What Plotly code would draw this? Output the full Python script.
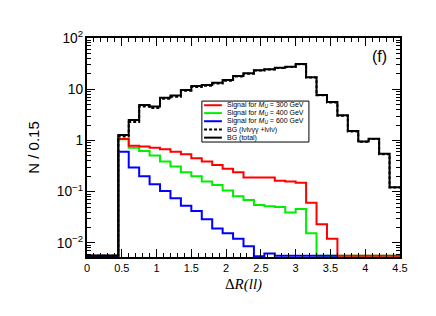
import math
import plotly.graph_objects as go

BIN_WIDTH = 0.15

# Bin contents (bins of width 0.15 starting at 0)
bg_total = [0, 0, 0, 1.28, 2.5, 4.9, 4.6, 6.8, 7.5, 9.7, 11.6, 12.1, 13.4, 15.1, 18.1,
            20.4, 23.5, 24.5, 26.3, 27.5, 31.1, 17.1, 7.7, 5.6, 3.1, 1.53, 0.95, 1.08,
            0.55, 0.122]
bg_lvlv = [0, 0, 0, 1.2, 2.3, 4.6, 4.3, 6.5, 7.1, 9.3, 11.1, 11.7, 13.0, 14.7, 17.7,
           20.0, 23.1, 24.2, 26.0, 27.2, 30.8, 16.9, 7.6, 5.5, 3.05, 1.5, 0.94, 1.07,
           0.54, 0.12]
sig_300 = [0, 0, 0, 1.07, 0.79, 0.76, 0.72, 0.67, 0.60, 0.54, 0.45, 0.39, 0.33, 0.28,
           0.24, 0.19, 0.19, 0.19, 0.164, 0.157, 0.15, 0.061, 0.023, 0.012, 0, 0, 0, 0,
           0, 0]
sig_400 = [0, 0, 0, 1.05, 0.72, 0.62, 0.51, 0.39, 0.31, 0.24, 0.20, 0.157, 0.135,
           0.105, 0.081, 0.069, 0.055, 0.052, 0.050, 0.039, 0.046, 0.0155, 0.0056, 0,
           0, 0, 0, 0, 0, 0]
sig_600 = [0, 0, 0, 0.6, 0.295, 0.2, 0.14, 0.103, 0.074, 0.053, 0.042, 0.029, 0.019,
           0.0155, 0.012, 0.0086, 0.0055, 0.0062, 0, 0, 0, 0, 0, 0]

legend_labels = [
    "Signal for <i>M</i><sub><i>U</i></sub> = 300 GeV",
    "Signal for <i>M</i><sub><i>U</i></sub> = 400 GeV",
    "Signal for <i>M</i><sub><i>U</i></sub> = 600 GeV",
    "BG (lνlνγγ +lνlν)",
    "BG (total)",
]
legend_colors = ["#ff0000", "#00ee00", "#0000ff", "black", "black"]
DASHED = "3px,2px"
legend_dash = ["solid", "solid", "solid", DASHED, "solid"]

Y_MIN = 0.0053
Y_MAX = 100.0
FLOOR = Y_MIN * 1.06


def step(values):
    xs = [i * BIN_WIDTH for i in range(len(values) + 1)]
    ys = [v if v > 0 else FLOOR for v in values]
    ys = ys + [ys[-1]]
    return xs, ys


fig = go.Figure()


def add(values, name, color, dash="solid"):
    xs, ys = step(values)
    fig.add_trace(go.Scatter(x=xs, y=ys, mode="lines", line_shape="hv",
                             name=name, showlegend=False,
                             line=dict(color=color, width=2, dash=dash)))


add(sig_400, legend_labels[1], legend_colors[1])
add(sig_300, legend_labels[0], legend_colors[0])
add(sig_600, legend_labels[2], legend_colors[2])
add(bg_lvlv, legend_labels[3], "black", dash=DASHED)
add(bg_total, legend_labels[4], "black")

font_family = "Liberation Sans, Arial, sans-serif"

# Manual compact legend (ROOT-style box)
shapes = [dict(type="rect", xref="paper", yref="paper", x0=0.367, x1=0.709,
               y0=0.525, y1=0.712, line=dict(color="black", width=1),
               fillcolor="white", layer="above")]
annotations = []
row_y = [0.693, 0.657, 0.620, 0.582, 0.545]
for yy, lab, col, dsh in zip(row_y, legend_labels, legend_colors, legend_dash):
    shapes.append(dict(type="line", xref="paper", yref="paper", x0=0.374, x1=0.431,
                       y0=yy, y1=yy, line=dict(color=col, width=2, dash=dsh),
                       layer="above"))
    annotations.append(dict(text=lab, x=0.442, y=yy, xref="paper", yref="paper",
                            xanchor="left", yanchor="middle", showarrow=False,
                            font=dict(size=7, family=font_family)))
annotations.append(dict(text="(f)", x=0.935, y=0.915, xref="paper", yref="paper",
                        xanchor="center", yanchor="middle",
                        showarrow=False, font=dict(size=16, family=font_family)))

# page body has an 8px default margin, so the figure is drawn 8px smaller
fig.update_layout(
    width=428, height=308,
    margin=dict(l=79, r=36, t=30, b=59, autoexpand=False),
    paper_bgcolor="white", plot_bgcolor="white",
    font=dict(family=font_family, color="black", size=11),
    showlegend=False,
    shapes=shapes,
    annotations=annotations,
)

fig.update_xaxes(
    range=[0, 4.5], dtick=0.5, tick0=0, automargin=False,
    showline=True, linecolor="black", linewidth=1.5, mirror="ticks",
    ticks="inside", ticklen=8, tickcolor="black", tickwidth=1,
    minor=dict(ticks="inside", dtick=0.1, ticklen=4, tickcolor="black", showgrid=False),
    showgrid=False, zeroline=False,
    title=dict(text="Δ<i>R(ll)</i>", font=dict(size=15, family="Liberation Serif, serif"),
               standoff=6),
    tickfont=dict(size=11),
)
fig.update_yaxes(
    type="log", range=[math.log10(Y_MIN), math.log10(Y_MAX)], dtick=1,
    exponentformat="power", automargin=False,
    showline=True, linecolor="black", linewidth=1.5, mirror="ticks",
    ticks="inside", ticklen=8, tickcolor="black", tickwidth=1,
    minor=dict(ticks="inside", dtick="D1", ticklen=4, tickcolor="black", showgrid=False),
    showgrid=False, zeroline=False,
    title=dict(text="N / 0.15", font=dict(size=15), standoff=14),
    tickfont=dict(size=11),
)

fig.write_html("out.html")
